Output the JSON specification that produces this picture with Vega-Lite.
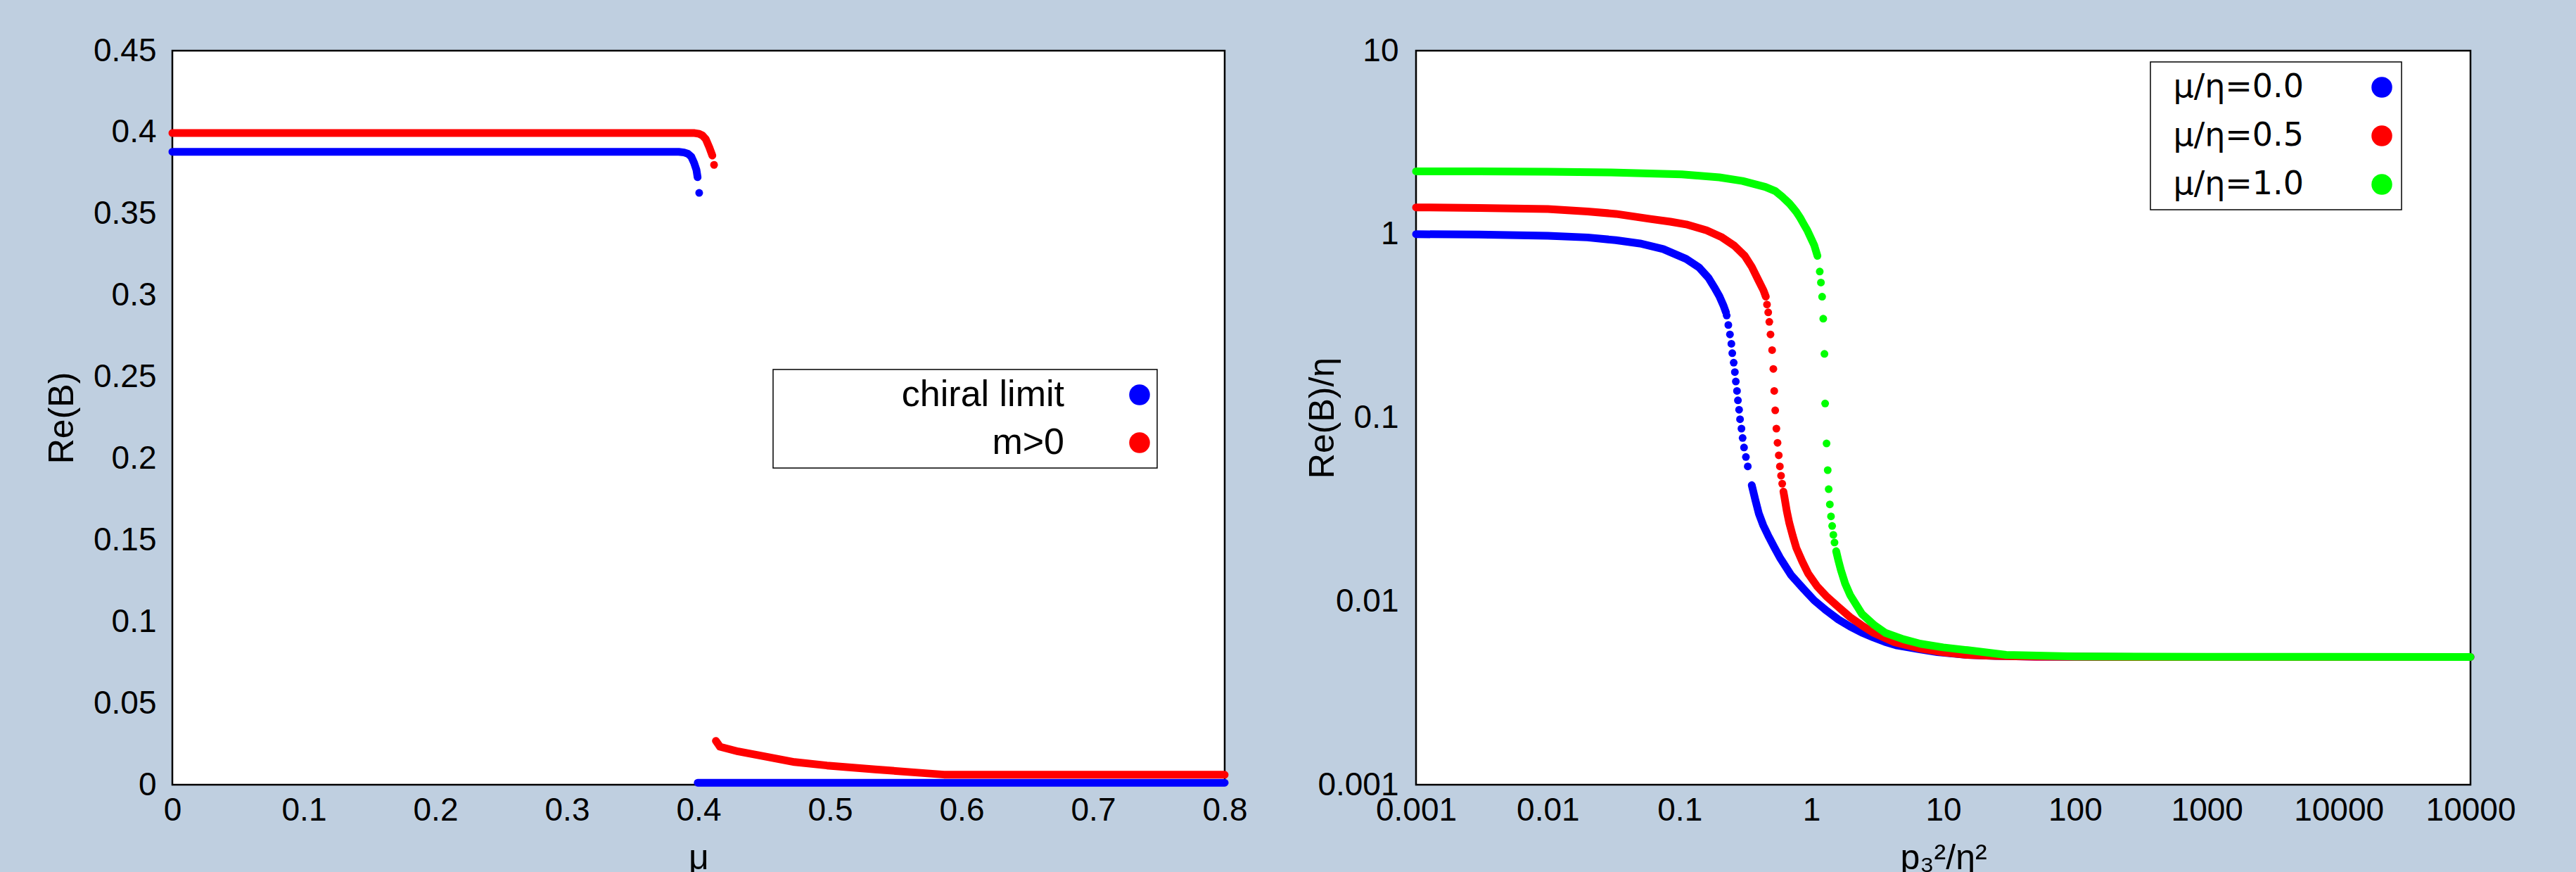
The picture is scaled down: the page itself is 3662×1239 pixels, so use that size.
{
 "$schema": "https://vega.github.io/schema/vega-lite/v6.json",
 "background": "#bfcfe0",
 "padding": {"left": 62, "top": 47, "right": 90, "bottom": 30},
 "config": {
  "view": {"fill": "white", "stroke": "black", "strokeWidth": 2.5},
  "axis": {"grid": false, "ticks": false, "tickSize": 0, "domain": false, "labelFlush": false, "labelOverlap": false, "labelFont": "Liberation Sans", "labelFontSize": 46, "labelColor": "black", "titleFont": "Liberation Sans", "titleFontSize": 50, "titleFontWeight": "normal", "titleColor": "black"},
  "legend": {"strokeWidth": 1.5, "symbolStrokeWidth": 0, "labelLimit": 2000, "symbolType": "circle"}
 },
 "datasets": {
  "left": [
   {"s":"chiral limit","mu":0,"B":0.388,"seg":"a"},
   {"s":"chiral limit","mu":0.1,"B":0.388,"seg":"a"},
   {"s":"chiral limit","mu":0.2,"B":0.388,"seg":"a"},
   {"s":"chiral limit","mu":0.3,"B":0.388,"seg":"a"},
   {"s":"chiral limit","mu":0.385,"B":0.388,"seg":"a"},
   {"s":"chiral limit","mu":0.389,"B":0.3876,"seg":"a"},
   {"s":"chiral limit","mu":0.392,"B":0.3868,"seg":"a"},
   {"s":"chiral limit","mu":0.3945,"B":0.385,"seg":"a"},
   {"s":"chiral limit","mu":0.3966,"B":0.3813,"seg":"a"},
   {"s":"chiral limit","mu":0.3984,"B":0.377,"seg":"a"},
   {"s":"chiral limit","mu":0.3993,"B":0.3724,"seg":"a"},
   {"s":"chiral limit","mu":0.4005,"B":0.3628,"seg":"s"},
   {"s":"chiral limit","mu":0.3994,"B":0.0012,"seg":"b"},
   {"s":"chiral limit","mu":0.5,"B":0.0012,"seg":"b"},
   {"s":"chiral limit","mu":0.6,"B":0.0012,"seg":"b"},
   {"s":"chiral limit","mu":0.7,"B":0.0012,"seg":"b"},
   {"s":"chiral limit","mu":0.8,"B":0.0012,"seg":"b"},
   {"s":"m>0","mu":0,"B":0.3995,"seg":"a"},
   {"s":"m>0","mu":0.1,"B":0.3995,"seg":"a"},
   {"s":"m>0","mu":0.2,"B":0.3995,"seg":"a"},
   {"s":"m>0","mu":0.3,"B":0.3995,"seg":"a"},
   {"s":"m>0","mu":0.397,"B":0.3995,"seg":"a"},
   {"s":"m>0","mu":0.4005,"B":0.399,"seg":"a"},
   {"s":"m>0","mu":0.403,"B":0.398,"seg":"a"},
   {"s":"m>0","mu":0.4055,"B":0.3958,"seg":"a"},
   {"s":"m>0","mu":0.4082,"B":0.3907,"seg":"a"},
   {"s":"m>0","mu":0.4105,"B":0.3857,"seg":"a"},
   {"s":"m>0","mu":0.4118,"B":0.38,"seg":"s"},
   {"s":"m>0","mu":0.4132,"B":0.0269,"seg":"b"},
   {"s":"m>0","mu":0.4163,"B":0.0233,"seg":"b"},
   {"s":"m>0","mu":0.4301,"B":0.0204,"seg":"b"},
   {"s":"m>0","mu":0.4485,"B":0.0176,"seg":"b"},
   {"s":"m>0","mu":0.473,"B":0.0139,"seg":"b"},
   {"s":"m>0","mu":0.4976,"B":0.0118,"seg":"b"},
   {"s":"m>0","mu":0.5344,"B":0.0094,"seg":"b"},
   {"s":"m>0","mu":0.5651,"B":0.0075,"seg":"b"},
   {"s":"m>0","mu":0.5866,"B":0.0062,"seg":"b"},
   {"s":"m>0","mu":0.6,"B":0.0061,"seg":"b"},
   {"s":"m>0","mu":0.7,"B":0.0061,"seg":"b"},
   {"s":"m>0","mu":0.8,"B":0.0061,"seg":"b"}
  ],
  "right": [
   {"s":"μ/η=0.0","p":0.001,"B":1.0,"seg":"a"},
   {"s":"μ/η=0.0","p":0.003,"B":0.995,"seg":"a"},
   {"s":"μ/η=0.0","p":0.01,"B":0.98,"seg":"a"},
   {"s":"μ/η=0.0","p":0.02,"B":0.96,"seg":"a"},
   {"s":"μ/η=0.0","p":0.0328,"B":0.928,"seg":"a"},
   {"s":"μ/η=0.0","p":0.05,"B":0.89,"seg":"a"},
   {"s":"μ/η=0.0","p":0.075,"B":0.83,"seg":"a"},
   {"s":"μ/η=0.0","p":0.112,"B":0.733,"seg":"a"},
   {"s":"μ/η=0.0","p":0.14,"B":0.66,"seg":"a"},
   {"s":"μ/η=0.0","p":0.165,"B":0.58,"seg":"a"},
   {"s":"μ/η=0.0","p":0.183,"B":0.514,"seg":"a"},
   {"s":"μ/η=0.0","p":0.2,"B":0.46,"seg":"a"},
   {"s":"μ/η=0.0","p":0.2146,"B":0.41,"seg":"a"},
   {"s":"μ/η=0.0","p":0.2246,"B":0.375,"seg":"a"},
   {"s":"μ/η=0.0","p":0.2275,"B":0.3604,"seg":"s"},
   {"s":"μ/η=0.0","p":0.2341,"B":0.3201,"seg":"s"},
   {"s":"μ/η=0.0","p":0.2408,"B":0.2844,"seg":"s"},
   {"s":"μ/η=0.0","p":0.2469,"B":0.2528,"seg":"s"},
   {"s":"μ/η=0.0","p":0.2508,"B":0.2246,"seg":"s"},
   {"s":"μ/η=0.0","p":0.2571,"B":0.1995,"seg":"s"},
   {"s":"μ/η=0.0","p":0.2624,"B":0.1773,"seg":"s"},
   {"s":"μ/η=0.0","p":0.2668,"B":0.1575,"seg":"s"},
   {"s":"μ/η=0.0","p":0.2723,"B":0.1399,"seg":"s"},
   {"s":"μ/η=0.0","p":0.2768,"B":0.1243,"seg":"s"},
   {"s":"μ/η=0.0","p":0.2825,"B":0.1105,"seg":"s"},
   {"s":"μ/η=0.0","p":0.2872,"B":0.0981,"seg":"s"},
   {"s":"μ/η=0.0","p":0.2944,"B":0.0872,"seg":"s"},
   {"s":"μ/η=0.0","p":0.3005,"B":0.0775,"seg":"s"},
   {"s":"μ/η=0.0","p":0.308,"B":0.0688,"seg":"s"},
   {"s":"μ/η=0.0","p":0.3182,"B":0.0611,"seg":"s"},
   {"s":"μ/η=0.0","p":0.3288,"B":0.0543,"seg":"s"},
   {"s":"μ/η=0.0","p":0.3525,"B":0.0429,"seg":"b"},
   {"s":"μ/η=0.0","p":0.375,"B":0.0357,"seg":"b"},
   {"s":"μ/η=0.0","p":0.3985,"B":0.0301,"seg":"b"},
   {"s":"μ/η=0.0","p":0.43,"B":0.026,"seg":"b"},
   {"s":"μ/η=0.0","p":0.4695,"B":0.0228,"seg":"b"},
   {"s":"μ/η=0.0","p":0.52,"B":0.0198,"seg":"b"},
   {"s":"μ/η=0.0","p":0.576,"B":0.0173,"seg":"b"},
   {"s":"μ/η=0.0","p":0.7,"B":0.0139,"seg":"b"},
   {"s":"μ/η=0.0","p":0.868,"B":0.0117,"seg":"b"},
   {"s":"μ/η=0.0","p":1.05,"B":0.0101,"seg":"b"},
   {"s":"μ/η=0.0","p":1.307,"B":0.00886,"seg":"b"},
   {"s":"μ/η=0.0","p":1.6,"B":0.00795,"seg":"b"},
   {"s":"μ/η=0.0","p":1.968,"B":0.00727,"seg":"b"},
   {"s":"μ/η=0.0","p":2.4,"B":0.00676,"seg":"b"},
   {"s":"μ/η=0.0","p":2.965,"B":0.00634,"seg":"b"},
   {"s":"μ/η=0.0","p":3.6,"B":0.00601,"seg":"b"},
   {"s":"μ/η=0.0","p":4.467,"B":0.00574,"seg":"b"},
   {"s":"μ/η=0.0","p":6.5,"B":0.00548,"seg":"b"},
   {"s":"μ/η=0.0","p":9,"B":0.00528,"seg":"b"},
   {"s":"μ/η=0.0","p":15.26,"B":0.0051,"seg":"b"},
   {"s":"μ/η=0.0","p":25,"B":0.00503,"seg":"b"},
   {"s":"μ/η=0.0","p":50,"B":0.00499,"seg":"b"},
   {"s":"μ/η=0.0","p":300,"B":0.00497,"seg":"b"},
   {"s":"μ/η=0.0","p":100000,"B":0.00497,"seg":"b"},
   {"s":"μ/η=0.5","p":0.001,"B":1.4,"seg":"a"},
   {"s":"μ/η=0.5","p":0.003,"B":1.39,"seg":"a"},
   {"s":"μ/η=0.5","p":0.01,"B":1.37,"seg":"a"},
   {"s":"μ/η=0.5","p":0.02,"B":1.33,"seg":"a"},
   {"s":"μ/η=0.5","p":0.0328,"B":1.29,"seg":"a"},
   {"s":"μ/η=0.5","p":0.06,"B":1.21,"seg":"a"},
   {"s":"μ/η=0.5","p":0.085,"B":1.17,"seg":"a"},
   {"s":"μ/η=0.5","p":0.112,"B":1.131,"seg":"a"},
   {"s":"μ/η=0.5","p":0.16,"B":1.05,"seg":"a"},
   {"s":"μ/η=0.5","p":0.207,"B":0.966,"seg":"a"},
   {"s":"μ/η=0.5","p":0.26,"B":0.865,"seg":"a"},
   {"s":"μ/η=0.5","p":0.3118,"B":0.762,"seg":"a"},
   {"s":"μ/η=0.5","p":0.3525,"B":0.664,"seg":"a"},
   {"s":"μ/η=0.5","p":0.3985,"B":0.556,"seg":"a"},
   {"s":"μ/η=0.5","p":0.4326,"B":0.494,"seg":"a"},
   {"s":"μ/η=0.5","p":0.4505,"B":0.4566,"seg":"a"},
   {"s":"μ/η=0.5","p":0.46,"B":0.4137,"seg":"s"},
   {"s":"μ/η=0.5","p":0.4699,"B":0.375,"seg":"s"},
   {"s":"μ/η=0.5","p":0.479,"B":0.333,"seg":"s"},
   {"s":"μ/η=0.5","p":0.489,"B":0.2844,"seg":"s"},
   {"s":"μ/η=0.5","p":0.503,"B":0.2336,"seg":"s"},
   {"s":"μ/η=0.5","p":0.514,"B":0.1844,"seg":"s"},
   {"s":"μ/η=0.5","p":0.522,"B":0.1399,"seg":"s"},
   {"s":"μ/η=0.5","p":0.531,"B":0.1096,"seg":"s"},
   {"s":"μ/η=0.5","p":0.542,"B":0.0872,"seg":"s"},
   {"s":"μ/η=0.5","p":0.553,"B":0.073,"seg":"s"},
   {"s":"μ/η=0.5","p":0.565,"B":0.0624,"seg":"s"},
   {"s":"μ/η=0.5","p":0.576,"B":0.0543,"seg":"s"},
   {"s":"μ/η=0.5","p":0.588,"B":0.0483,"seg":"s"},
   {"s":"μ/η=0.5","p":0.6,"B":0.0437,"seg":"s"},
   {"s":"μ/η=0.5","p":0.613,"B":0.0396,"seg":"b"},
   {"s":"μ/η=0.5","p":0.625,"B":0.0366,"seg":"b"},
   {"s":"μ/η=0.5","p":0.65,"B":0.031,"seg":"b"},
   {"s":"μ/η=0.5","p":0.679,"B":0.0267,"seg":"b"},
   {"s":"μ/η=0.5","p":0.72,"B":0.0228,"seg":"b"},
   {"s":"μ/η=0.5","p":0.768,"B":0.0195,"seg":"b"},
   {"s":"μ/η=0.5","p":0.85,"B":0.0165,"seg":"b"},
   {"s":"μ/η=0.5","p":0.942,"B":0.0142,"seg":"b"},
   {"s":"μ/η=0.5","p":1.1,"B":0.0121,"seg":"b"},
   {"s":"μ/η=0.5","p":1.31,"B":0.01057,"seg":"b"},
   {"s":"μ/η=0.5","p":1.6,"B":0.0093,"seg":"b"},
   {"s":"μ/η=0.5","p":1.968,"B":0.00818,"seg":"b"},
   {"s":"μ/η=0.5","p":2.4,"B":0.0074,"seg":"b"},
   {"s":"μ/η=0.5","p":2.965,"B":0.00672,"seg":"b"},
   {"s":"μ/η=0.5","p":4.2,"B":0.006,"seg":"b"},
   {"s":"μ/η=0.5","p":6.73,"B":0.00552,"seg":"b"},
   {"s":"μ/η=0.5","p":10,"B":0.00527,"seg":"b"},
   {"s":"μ/η=0.5","p":15.26,"B":0.0051,"seg":"b"},
   {"s":"μ/η=0.5","p":25,"B":0.00503,"seg":"b"},
   {"s":"μ/η=0.5","p":50,"B":0.00499,"seg":"b"},
   {"s":"μ/η=0.5","p":300,"B":0.00497,"seg":"b"},
   {"s":"μ/η=0.5","p":100000,"B":0.00497,"seg":"b"},
   {"s":"μ/η=1.0","p":0.001,"B":2.2,"seg":"a"},
   {"s":"μ/η=1.0","p":0.003,"B":2.2,"seg":"a"},
   {"s":"μ/η=1.0","p":0.01,"B":2.19,"seg":"a"},
   {"s":"μ/η=1.0","p":0.03,"B":2.17,"seg":"a"},
   {"s":"μ/η=1.0","p":0.1038,"B":2.12,"seg":"a"},
   {"s":"μ/η=1.0","p":0.2,"B":2.04,"seg":"a"},
   {"s":"μ/η=1.0","p":0.3,"B":1.95,"seg":"a"},
   {"s":"μ/η=1.0","p":0.447,"B":1.81,"seg":"a"},
   {"s":"μ/η=1.0","p":0.53,"B":1.72,"seg":"a"},
   {"s":"μ/η=1.0","p":0.6,"B":1.6,"seg":"a"},
   {"s":"μ/η=1.0","p":0.68,"B":1.47,"seg":"a"},
   {"s":"μ/η=1.0","p":0.72,"B":1.4,"seg":"a"},
   {"s":"μ/η=1.0","p":0.767,"B":1.324,"seg":"a"},
   {"s":"μ/η=1.0","p":0.82,"B":1.23,"seg":"a"},
   {"s":"μ/η=1.0","p":0.87,"B":1.14,"seg":"a"},
   {"s":"μ/η=1.0","p":0.93,"B":1.05,"seg":"a"},
   {"s":"μ/η=1.0","p":0.981,"B":0.966,"seg":"a"},
   {"s":"μ/η=1.0","p":1.05,"B":0.87,"seg":"a"},
   {"s":"μ/η=1.0","p":1.11,"B":0.762,"seg":"a"},
   {"s":"μ/η=1.0","p":1.156,"B":0.626,"seg":"s"},
   {"s":"μ/η=1.0","p":1.18,"B":0.545,"seg":"s"},
   {"s":"μ/η=1.0","p":1.205,"B":0.4566,"seg":"s"},
   {"s":"μ/η=1.0","p":1.229,"B":0.3465,"seg":"s"},
   {"s":"μ/η=1.0","p":1.255,"B":0.2228,"seg":"s"},
   {"s":"μ/η=1.0","p":1.27,"B":0.1195,"seg":"s"},
   {"s":"μ/η=1.0","p":1.302,"B":0.0724,"seg":"s"},
   {"s":"μ/η=1.0","p":1.329,"B":0.0518,"seg":"s"},
   {"s":"μ/η=1.0","p":1.351,"B":0.0408,"seg":"s"},
   {"s":"μ/η=1.0","p":1.379,"B":0.0337,"seg":"s"},
   {"s":"μ/η=1.0","p":1.407,"B":0.029,"seg":"s"},
   {"s":"μ/η=1.0","p":1.436,"B":0.0257,"seg":"s"},
   {"s":"μ/η=1.0","p":1.466,"B":0.023,"seg":"s"},
   {"s":"μ/η=1.0","p":1.496,"B":0.0209,"seg":"s"},
   {"s":"μ/η=1.0","p":1.54,"B":0.01874,"seg":"b"},
   {"s":"μ/η=1.0","p":1.6,"B":0.0167,"seg":"b"},
   {"s":"μ/η=1.0","p":1.672,"B":0.01479,"seg":"b"},
   {"s":"μ/η=1.0","p":1.8,"B":0.0125,"seg":"b"},
   {"s":"μ/η=1.0","p":1.968,"B":0.01079,"seg":"b"},
   {"s":"μ/η=1.0","p":2.2,"B":0.0095,"seg":"b"},
   {"s":"μ/η=1.0","p":2.416,"B":0.00852,"seg":"b"},
   {"s":"μ/η=1.0","p":3,"B":0.0074,"seg":"b"},
   {"s":"μ/η=1.0","p":3.64,"B":0.00672,"seg":"b"},
   {"s":"μ/η=1.0","p":5,"B":0.0062,"seg":"b"},
   {"s":"μ/η=1.0","p":6.73,"B":0.00586,"seg":"b"},
   {"s":"μ/η=1.0","p":10,"B":0.0056,"seg":"b"},
   {"s":"μ/η=1.0","p":15.26,"B":0.00541,"seg":"b"},
   {"s":"μ/η=1.0","p":30,"B":0.0051,"seg":"b"},
   {"s":"μ/η=1.0","p":100,"B":0.005,"seg":"b"},
   {"s":"μ/η=1.0","p":1000,"B":0.00498,"seg":"b"},
   {"s":"μ/η=1.0","p":100000,"B":0.00497,"seg":"b"}
  ]
 },
 "spacing": 79,
 "resolve": {"scale": {"color": "independent"}, "legend": {"color": "independent"}},
 "hconcat": [
  {
   "width": 1496, "height": 1043,
   "data": {"name": "left"},
   "layer": [
    {
     "transform": [{"filter": "datum.seg == 's'"}],
     "mark": {"type": "point", "filled": true, "opacity": 1, "size": 121, "strokeWidth": 0},
     "encoding": {
      "x": {"field": "mu", "type": "quantitative", "scale": {"domain": [0, 0.8], "nice": false, "zero": false}, "axis": {"values": [0, 0.1, 0.2, 0.3, 0.4, 0.5, 0.6, 0.7, 0.8], "format": "~g", "labelPadding": 14.6, "title": "μ", "titlePadding": 20}},
      "y": {"field": "B", "type": "quantitative", "scale": {"domain": [0, 0.45], "nice": false, "zero": false}, "axis": {"values": [0, 0.05, 0.1, 0.15, 0.2, 0.25, 0.3, 0.35, 0.4, 0.45], "format": "~g", "labelPadding": 23, "title": "Re(B)", "titlePadding": 18.5}},
      "color": {"field": "s", "type": "nominal", "scale": {"domain": ["chiral limit", "m>0"], "range": ["#0000ff", "#ff0000"]},
       "legend": {"orient": "none", "legendX": 854, "legendY": 453, "title": null, "fillColor": "white", "strokeColor": "black", "padding": 10, "rowPadding": 16, "labelFont": "Liberation Sans", "labelFontSize": 52, "labelColor": "black", "labelAlign": "right", "labelOffset": -133, "symbolOffset": 485, "symbolSize": 870, "symbolType": "circle", "symbolOpacity": 1}}
     }
    },
    {
     "transform": [{"filter": "datum.seg != 's'"}],
     "mark": {"type": "line", "strokeWidth": 11, "strokeCap": "round", "strokeJoin": "round"},
     "encoding": {
      "x": {"field": "mu", "type": "quantitative"},
      "y": {"field": "B", "type": "quantitative"},
      "color": {"field": "s", "type": "nominal"},
      "detail": {"field": "seg"}
     }
    }
   ]
  },
  {
   "width": 1499, "height": 1043,
   "data": {"name": "right"},
   "layer": [
    {
     "transform": [{"filter": "datum.seg == 's'"}],
     "mark": {"type": "point", "filled": true, "opacity": 1, "size": 121, "strokeWidth": 0},
     "encoding": {
      "x": {"field": "p", "type": "quantitative", "scale": {"type": "log", "domain": [0.001, 100000], "nice": false}, "axis": {"values": [0.001, 0.01, 0.1, 1, 10, 100, 1000, 10000, 100000], "labelExpr": "datum.value >= 99999 ? '10000' : format(datum.value, '~g')", "labelPadding": 14.6, "title": "p₃²/η²", "titlePadding": 20}},
      "y": {"field": "B", "type": "quantitative", "scale": {"type": "log", "domain": [0.001, 10], "nice": false}, "axis": {"values": [0.001, 0.01, 0.1, 1, 10], "format": "~g", "labelPadding": 25, "title": "Re(B)/η", "titlePadding": -33}},
      "color": {"field": "s", "type": "nominal", "scale": {"domain": ["μ/η=0.0", "μ/η=0.5", "μ/η=1.0"], "range": ["#0000ff", "#ff0000", "#00ff00"]},
       "legend": {"orient": "none", "legendX": 1044, "legendY": 16, "title": null, "fillColor": "white", "strokeColor": "black", "padding": 13, "rowPadding": 23, "labelFont": "DejaVu Sans", "labelFontSize": 46, "labelColor": "black", "labelAlign": "right", "labelOffset": -134, "symbolOffset": 293, "symbolSize": 870, "symbolType": "circle", "symbolOpacity": 1}}
     }
    },
    {
     "transform": [{"filter": "datum.seg != 's'"}],
     "mark": {"type": "line", "strokeWidth": 11, "strokeCap": "round", "strokeJoin": "round"},
     "encoding": {
      "x": {"field": "p", "type": "quantitative"},
      "y": {"field": "B", "type": "quantitative"},
      "color": {"field": "s", "type": "nominal"},
      "detail": {"field": "seg"}
     }
    }
   ]
  }
 ]
}
